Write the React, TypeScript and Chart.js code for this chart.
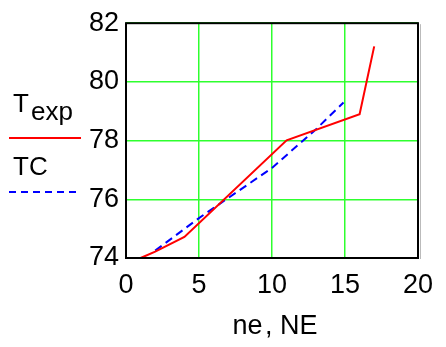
import React, { useEffect, useRef } from "react";
import { Chart, registerables } from "chart.js";

Chart.register(...registerables);

// Data
const texpNe = [1, 2, 4, 11, 16, 17];
const texpT = [74.0, 74.22, 74.72, 78.01, 78.9, 81.21];
const tcNE = [2, 5, 10, 13, 14.9];
const tcT = [74.25, 75.36, 77.07, 78.38, 79.3];
const xRange = [0, 20];
const yRange = [74, 82];
const xStep = 5;
const yStep = 2;
const legendLabels = ["T", "exp", "TC"];
const axisTitle = "ne\u200A, NE";

const FONT = '"Liberation Sans", Arial, sans-serif';
const GRID = "#2eff2e";

export default function App() {
  const ref = useRef<HTMLCanvasElement | null>(null);

  useEffect(() => {
    document.body.style.margin = "0";
    const canvas = ref.current!;
    const overlay = {
      id: "overlay",
      afterDraw(chart: any) {
        const ctx = chart.ctx as CanvasRenderingContext2D;
        const { left, top, right, bottom } = chart.chartArea;
        ctx.save();
        // frame
        ctx.strokeStyle = "#bbbbbb";
        ctx.lineWidth = 1;
        ctx.beginPath();
        ctx.moveTo(right + 2.5, top + 1);
        ctx.lineTo(right + 2.5, bottom + 1);
        ctx.stroke();
        ctx.strokeStyle = "#000000";
        ctx.lineWidth = 2;
        ctx.strokeRect(left, top, right - left, bottom - top);
        // axis title
        ctx.fillStyle = "#000";
        ctx.font = `27px ${FONT}`;
        ctx.textAlign = "center";
        ctx.textBaseline = "alphabetic";
        ctx.fillText(axisTitle, (left + right) / 2 + 3, 334);
        // legend
        ctx.textAlign = "left";
        ctx.font = `26px ${FONT}`;
        ctx.fillText(legendLabels[0], 13, 112);
        ctx.fillText(legendLabels[1], 31, 120);
        ctx.fillText(legendLabels[2], 13, 175);
        ctx.lineWidth = 2;
        ctx.strokeStyle = "#ff0000";
        ctx.beginPath();
        ctx.moveTo(9, 138);
        ctx.lineTo(81, 138);
        ctx.stroke();
        ctx.strokeStyle = "#0000ff";
        ctx.setLineDash([7, 5]);
        ctx.beginPath();
        ctx.moveTo(9, 192);
        ctx.lineTo(81, 192);
        ctx.stroke();
        ctx.restore();
      },
    };

    const chart = new Chart(canvas, {
      type: "scatter",
      data: {
        datasets: [
          {
            label: "Texp",
            data: texpNe.map((x, i) => ({ x, y: texpT[i] })),
            showLine: true,
            borderColor: "#ff0000",
            borderWidth: 2,
            pointRadius: 0,
            tension: 0,
            clip: false as any,
          },
          {
            label: "TC",
            data: tcNE.map((x, i) => ({ x, y: tcT[i] })),
            showLine: true,
            borderColor: "#0000ff",
            borderWidth: 2,
            borderDash: [8, 5],
            pointRadius: 0,
            tension: 0,
          },
        ],
      },
      options: {
        animation: false,
        responsive: false,
        layout: { padding: { top: 18, right: 28, bottom: 0, left: 0 } },
        plugins: { legend: { display: false }, tooltip: { enabled: false } },
        scales: {
          x: {
            type: "linear",
            min: xRange[0],
            max: xRange[1],
            afterFit: (s: any) => {
              s.height = 89;
            },
            ticks: {
              stepSize: xStep,
              padding: 11,
              color: "#000",
              font: { family: FONT, size: 27 },
            },
            grid: { color: GRID, lineWidth: 1.5, drawTicks: false },
            border: { display: false },
          },
          y: {
            type: "linear",
            min: yRange[0],
            max: yRange[1],
            afterFit: (s: any) => {
              s.width = 126;
            },
            ticks: {
              stepSize: yStep,
              padding: 7,
              color: "#000",
              font: { family: FONT, size: 27 },
            },
            grid: { color: GRID, lineWidth: 1.5, drawTicks: false },
            border: { display: false },
          },
        },
      },
      plugins: [overlay],
    });
    return () => chart.destroy();
  }, []);

  return (
    <canvas
      ref={ref}
      width={446}
      height={347}
      style={{ display: "block", width: 446, height: 347 }}
    />
  );
}
